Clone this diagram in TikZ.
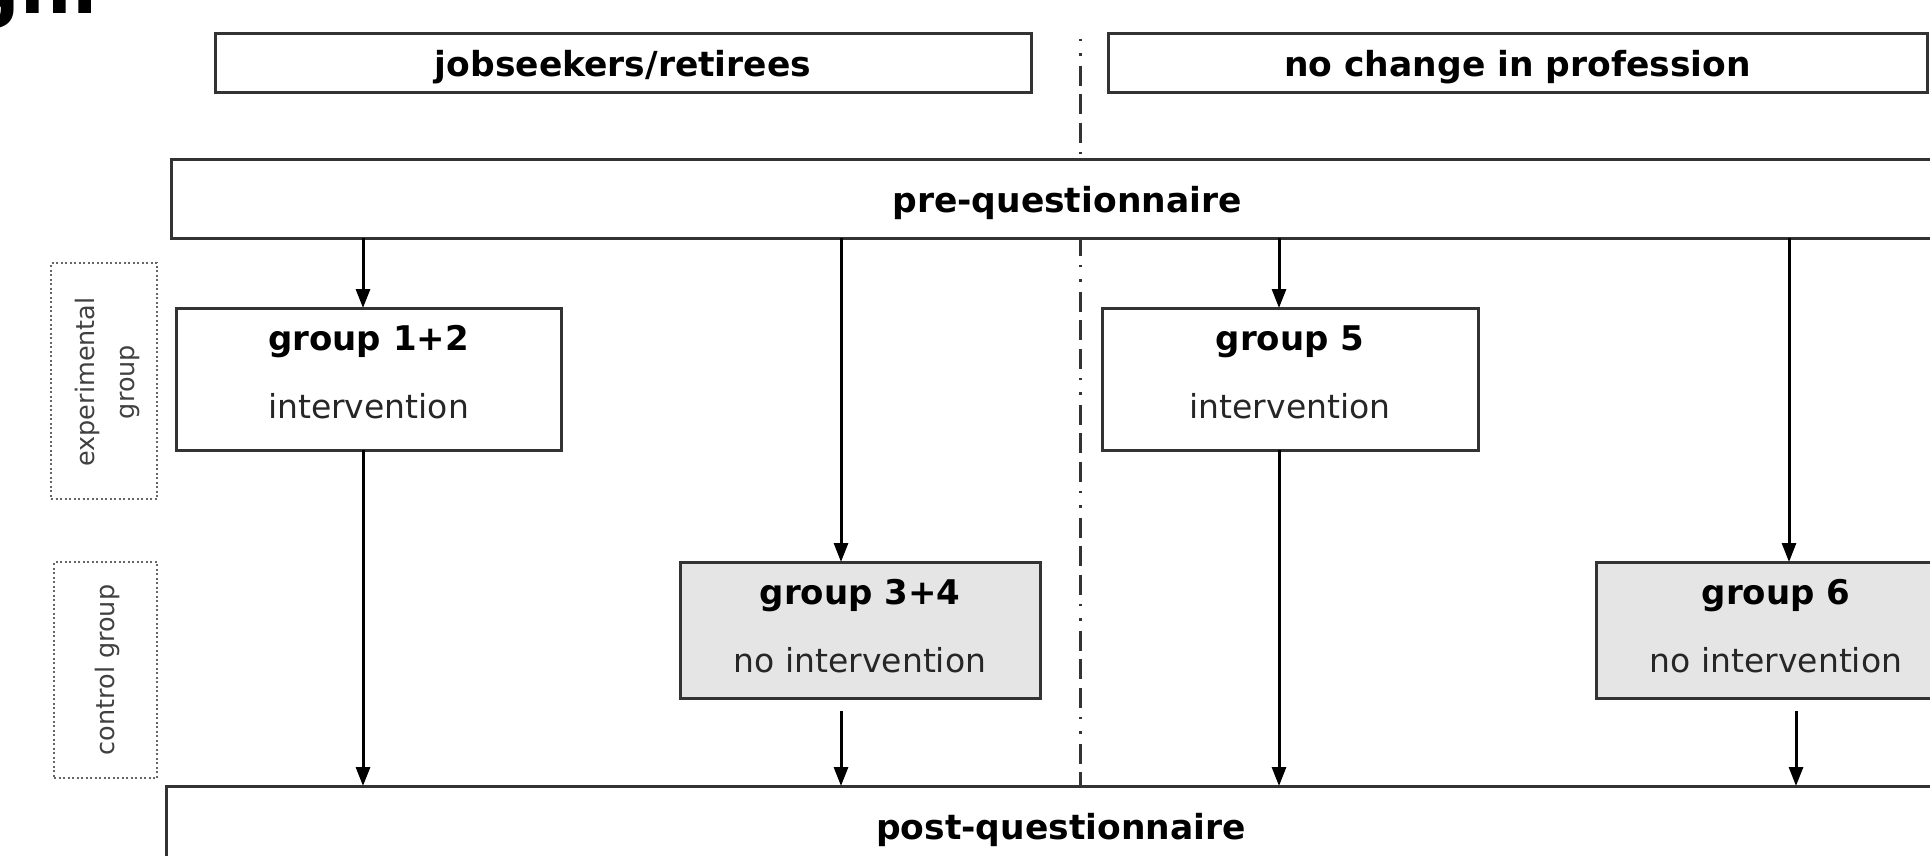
\documentclass[tikz,border=0pt]{standalone}
\usepackage{fontspec}
\setmainfont{DejaVu Sans}
\usetikzlibrary{arrows.meta,calc,backgrounds}
\begin{document}
\begin{tikzpicture}[x=1pt,y=-1pt,
  box/.style={draw=black!80, line width=3pt, fill=white, inner sep=0pt, outer sep=0pt},
  graybox/.style={box, fill=black!10},
  hdr/.style={font=\fontsize{34.5}{40}\selectfont\bfseries, text height=35pt, text depth=8pt},
  title/.style={font=\fontsize{34}{40}\selectfont\bfseries, inner sep=0pt, anchor=base},
  sub/.style={font=\fontsize{33}{40}\selectfont, text=black!85, inner sep=0pt, anchor=base},
  side/.style={draw=black!60, line width=1.9pt, dash pattern=on 2pt off 2.5pt, inner sep=0pt},
  sidetext/.style={font=\fontsize{25.5}{40}\selectfont, text=black!75, rotate=90, align=center, inner sep=0pt},
  arr/.style={draw=black, line width=3pt, -{Triangle[length=19pt,width=14pt]}},
  divider/.style={draw=black!80, line width=3pt, dash pattern=on 20pt off 8.5pt on 20pt off 8.5pt on 20pt off 9pt on 2.5pt off 12pt on 2.5pt off 10pt, dash phase=82.5pt}
]
\useasboundingbox (0,0) rectangle (1930,855);
\clip (0,0) rectangle (1930,855);
\begin{scope}[on background layer]
  \fill[white] (0,0) rectangle (1930,855);
\end{scope}

% cropped heading fragment
\node[font=\fontsize{72}{76}\selectfont\bfseries, anchor=base east, inner sep=0pt] (head) at (99,13) {gn.};

% top category boxes
\node[box, hdr, minimum width=816pt, minimum height=59pt] (job) at (623,62.5) {jobseekers/retirees};
\node[box, hdr, minimum width=819pt, minimum height=59pt] (noch) at (1517.5,62.5) {no change in profession};

% questionnaires
\node[box, hdr, minimum width=1792pt, minimum height=79pt] (pre) at (1067,198.5) {pre-questionnaire};
\node[box, hdr, minimum width=1790pt, minimum height=80pt] (post) at (1061,826) {post-questionnaire};

% group boxes
\node[box, minimum width=385pt, minimum height=142pt] (g12) at (368.5,379) {};
\node[box, minimum width=376pt, minimum height=142pt] (g5) at (1290,379) {};
\node[graybox, minimum width=360pt, minimum height=136pt] (g34) at (860,630) {};
\node[graybox, minimum width=360pt, minimum height=136pt] (g6) at (1776,630) {};

\node[title] (g12t) at ([yshift=-42pt]g12.north) {group 1+2};
\node[sub] (g12s) at ([yshift=-110pt]g12.north) {intervention};
\node[title] (g5t) at ([yshift=-42pt]g5.north) {group 5};
\node[sub] (g5s) at ([yshift=-110pt]g5.north) {intervention};
\node[title] (g34t) at ([yshift=-42pt]g34.north) {group 3+4};
\node[sub] (g34s) at ([yshift=-110pt]g34.north) {no intervention};
\node[title] (g6t) at ([yshift=-42pt]g6.north) {group 6};
\node[sub] (g6s) at ([yshift=-110pt]g6.north) {no intervention};

% side labels
\node[side, minimum width=106pt, minimum height=236pt] (exp) at (104,381) {};
\node[sidetext] (expt) at (107,382) {experimental\\group};
\node[side, minimum width=103pt, minimum height=216pt] (ctl) at (105.5,670) {};
\node[sidetext] (ctlt) at (107,670) {control group};

% divider
\coordinate (dtop) at (1080,35);
\begin{scope}[on background layer]
  \draw[divider] (dtop) -- (dtop |- post.north);
\end{scope}

% arrows
\coordinate (a1) at ($(g12.north)+(-5.5,0)$);
\coordinate (a2) at ($(g34.north)+(-19,0)$);
\coordinate (a3) at ($(g5.north)+(-11,0)$);
\coordinate (a4) at ($(g6.north)+(13,0)$);
\coordinate (b2) at ($(g34.south)+(-19,13)$);
\coordinate (b4) at ($(g6.south)+(20,13)$);

\draw[arr] (a1 |- pre.south) -- (a1);
\draw[arr] (a2 |- pre.south) -- (a2);
\draw[arr] (a3 |- pre.south) -- (a3);
\draw[arr] (a4 |- pre.south) -- (a4);

\draw[arr] (g12.south -| a1) -- (a1 |- post.north);
\draw[arr] (g5.south -| a3) -- (a3 |- post.north);
\draw[arr] (b2) -- (b2 |- post.north);
\draw[arr] (b4) -- (b4 |- post.north);
\end{tikzpicture}
\end{document}
